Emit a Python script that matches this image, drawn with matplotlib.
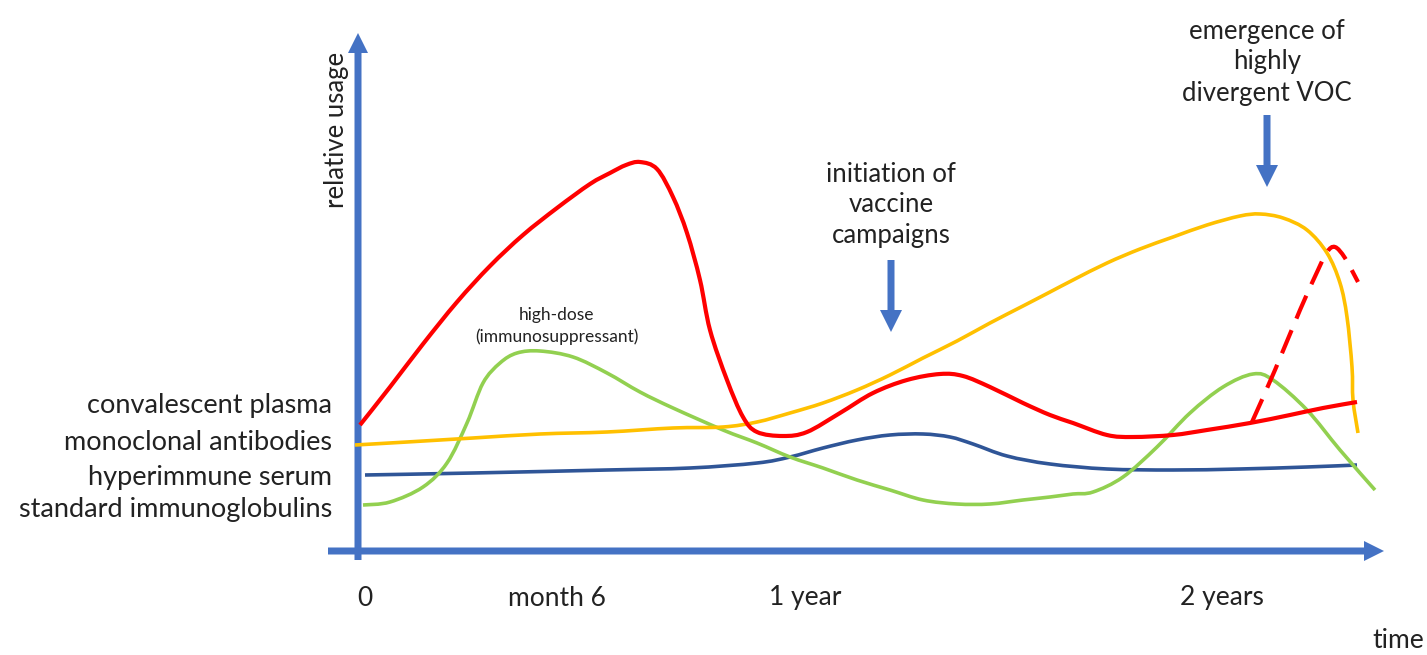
import matplotlib.pyplot as plt
from matplotlib.patches import FancyArrow, PathPatch
from matplotlib.path import Path

plt.rcParams['font.family'] = ['Lato', 'DejaVu Sans']

# schematic curves, time (t) vs relative usage (u)
plasma_t = [2, 32, 65, 99, 132, 165, 199, 232, 252, 268, 282, 299, 315, 329, 342, 352, 369, 385,
            399, 425, 449, 482, 515, 549, 582, 605, 632, 665, 692, 715, 749, 775, 815, 849, 892,
            932, 965, 999]
plasma_u = [126, 164, 207, 249, 285, 316, 343, 367, 378, 386, 389, 382, 354, 318, 271, 221, 171, 134,
            119, 115, 119, 138, 158, 171, 177, 175, 164, 148, 136, 128, 116, 114, 116, 121, 128,
            136, 143, 149]

plasma_voc_t = [894, 917, 942, 960, 969, 977, 987, 1000]
plasma_voc_u = [129, 181, 241, 281, 299, 304, 293, 269]

mab_t = [-3, 49, 115, 182, 249, 315, 365, 399, 432, 465, 499, 532, 565, 599, 632, 665, 692, 715,
         749, 782, 815, 849, 882, 902, 925, 949, 969, 982, 989, 994, 995, 1000]
mab_u = [106, 109, 113, 117, 119, 123, 124, 129, 138, 148, 161, 176, 193, 210, 228, 245, 259, 271,
         288, 302, 314, 326, 335, 337, 333, 321, 298, 268, 234, 184, 151, 118]

hyper_t = [7, 115, 249, 332, 399, 432, 465, 499, 532, 565, 592, 615, 649, 692, 749, 815, 882, 949, 999]
hyper_u = [76, 78, 81, 83, 88, 94, 103, 111, 116, 117, 114, 107, 95, 87, 82, 81, 82, 84, 86]

ig_t = [5, 32, 65, 89, 109, 125, 142, 159, 182, 215, 249, 282, 315, 365, 399, 432, 465, 499,
        532, 565, 599, 632, 665, 692, 715, 735, 765, 799, 832, 865, 895, 915, 949, 982, 1017]
ig_u = [46, 49, 64, 88, 128, 168, 188, 198, 200, 194, 178, 159, 143, 121, 108, 94, 83, 71,
        61, 51, 47, 47, 51, 54, 57, 59, 74, 104, 138, 164, 177, 171, 141, 101, 61]

series_names = ['convalescent plasma', 'monoclonal antibodies', 'hyperimmune serum',
                'standard immunoglobulins']
series_label_u = [146, 109, 73, 41]

tick_names = ['0', 'month 6', '1 year', '2 years']
tick_t = [7, 199, 447, 864]

blue = '#4472C4'
txt = '#222222'


def smooth(t, u):
    # draw the read points as a smooth bezier path (catmull-rom handles)
    pts = list(zip(t, u))
    verts = [pts[0]]
    codes = [Path.MOVETO]
    for i in range(len(pts) - 1):
        p0 = pts[i - 1] if i > 0 else pts[i]
        p1, p2 = pts[i], pts[i + 1]
        p3 = pts[i + 2] if i + 2 < len(pts) else pts[i + 1]
        c1 = (p1[0] + (p2[0] - p0[0]) / 6, p1[1] + (p2[1] - p0[1]) / 6)
        c2 = (p2[0] - (p3[0] - p1[0]) / 6, p2[1] - (p3[1] - p1[1]) / 6)
        verts += [c1, c2, p2]
        codes += [Path.CURVE4] * 3
    return Path(verts, codes)


fig = plt.figure(figsize=(14.27, 6.55), dpi=100)
ax = fig.add_axes([0, 0, 1, 1])
ax.set_xlim(-358, 1069)
ax.set_ylim(-104, 551)
ax.axis('off')

# axes drawn as arrows
ax.add_patch(FancyArrow(0, -9, 0, 527, width=7, head_width=20, head_length=20,
                        length_includes_head=True, color=blue, lw=0))
ax.add_patch(FancyArrow(-30, 0, 1056, 0, width=7, head_width=20, head_length=20,
                        length_includes_head=True, color=blue, lw=0))

ax.add_patch(PathPatch(smooth(hyper_t, hyper_u), fill=False, edgecolor='#2F5597', lw=2.6,
                       capstyle='butt'))
ax.add_patch(PathPatch(smooth(ig_t, ig_u), fill=False, edgecolor='#92D050', lw=2.6,
                       capstyle='butt'))
ax.add_patch(PathPatch(smooth(mab_t, mab_u), fill=False, edgecolor='#FFC000', lw=2.6,
                       capstyle='butt'))
ax.add_patch(PathPatch(smooth(plasma_t, plasma_u), fill=False, edgecolor='#FF0000', lw=3,
                       capstyle='butt'))
ax.add_patch(PathPatch(smooth(plasma_voc_t, plasma_voc_u), fill=False, edgecolor='#FF0000',
                       lw=3, linestyle=(0, (6, 3)), capstyle='butt'))

for name, u in zip(series_names, series_label_u):
    ax.text(-26, u, name, ha='right', va='center', fontsize=19.5, color=txt)

for name, t in zip(tick_names, tick_t):
    ax.text(t, -47, name, ha='center', va='center', fontsize=19, color=txt)
ax.text(1040, -89, 'time', ha='center', va='center', fontsize=19, color=txt)
ax.text(-21, 421, 'relative usage', ha='center', va='center', rotation=90, fontsize=18.5,
        color=txt)

ax.text(199, 225, 'high-dose\n(immunosuppressant)', ha='center', va='center', fontsize=12.5,
        color=txt, linespacing=1.35)

# event arrows
ax.text(533, 346, 'initiation of\nvaccine\ncampaigns', ha='center', va='center', fontsize=18.5,
        color=txt, linespacing=1.3)
ax.add_patch(FancyArrow(533, 291, 0, -72, width=7, head_width=22, head_length=22,
                        length_includes_head=True, color=blue, lw=0))

ax.text(909, 489, 'emergence of\nhighly\ndivergent VOC', ha='center', va='center', fontsize=18.5,
        color=txt, linespacing=1.3)
ax.add_patch(FancyArrow(909, 436, 0, -72, width=7, head_width=22, head_length=22,
                        length_includes_head=True, color=blue, lw=0))

fig.savefig('out.png', dpi=100)
